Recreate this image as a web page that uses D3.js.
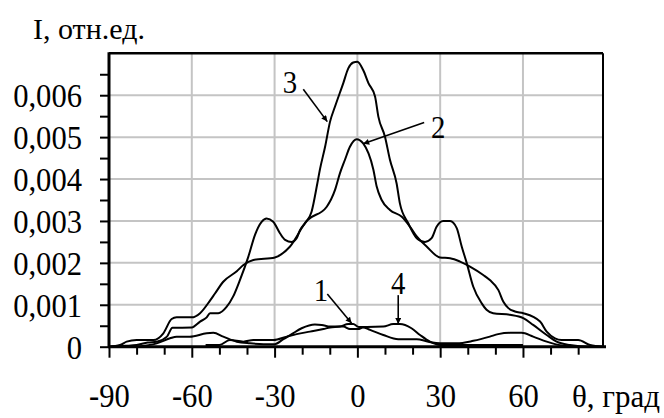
<!DOCTYPE html>
<html><head><meta charset="utf-8">
<script src="https://cdn.jsdelivr.net/npm/d3@7"></script>
<style>
body{margin:0;background:#fff}
svg{display:block}
svg text{font-family:'Liberation Serif','DejaVu Serif',serif !important;fill:#000}
</style>
</head><body><svg id="chart" width="664" height="418"></svg>
<script>
// ---- data (angle in degrees, relative intensity) ----
const angles1 = [-80, -72.7, -67.9, -65.5, -60.7, -54.6, -52.2, -48.6, -43.7, -38.9, -34, -30, -26.8, -23.8, -20.2, -15.4, -12.9, -9.9, -5.1, -2.7, 0.3, 2, 4.6, 9.4, 14.8, 21.5, 25.7, 29.9, 36, 42, 48, 51, 55.3, 59.5, 63.7, 68.6, 74.6, 78];
const values1 = [0, 0.00008, 0.0002, 0.00024, 0.00024, 0.00032, 0.00033, 0.00024, 0.00012, 0.00008, 0.00006, 0.00006, 0.00018, 0.0003, 0.00044, 0.00053, 0.00052, 0.00048, 0.00048, 0.00042, 0.00042, 0.00046, 0.0004, 0.00028, 0.00018, 0.00018, 0.00012, 0.00008, 0.00008, 0.00014, 0.00024, 0.0003, 0.00033, 0.00033, 0.00024, 0.00012, 0.00002, 0];

const angles2 = [-90, -86, -83.6, -80, -73.9, -70.3, -67.3, -65.5, -60, -57, -53.4, -51.6, -48.6, -43.7, -41.3, -37.7, -29.9, -24.4, -18.4, -11.1, -8.1, -6.3, -4.5, -2.7, -0.25, 2.1, 5.8, 7, 8.8, 11.8, 16.1, 19.1, 21.5, 25.1, 29.9, 33.6, 37.2, 40.8, 45.6, 48, 51.1, 52.9, 54.7, 57.1, 60.1, 66.2, 68.6, 71.6, 74, 80, 84.3, 89];
const values2 = [0, 0.00004, 0.00012, 0.00016, 0.00016, 0.00032, 0.00066, 0.0007, 0.0007, 0.0008, 0.0011, 0.00127, 0.00155, 0.0018, 0.00195, 0.00207, 0.00213, 0.00239, 0.003, 0.00334, 0.00374, 0.00414, 0.00446, 0.00477, 0.00495, 0.00485, 0.00422, 0.00382, 0.0035, 0.00326, 0.0031, 0.00286, 0.00263, 0.00239, 0.00213, 0.00211, 0.00203, 0.00191, 0.00171, 0.00159, 0.00135, 0.00107, 0.00092, 0.00084, 0.0008, 0.0006, 0.00036, 0.0002, 0.00016, 0.00016, 0.00004, 0];

const angles3 = [-90, -84, -80, -76, -72.7, -69, -67, -60, -57, -54.6, -53.4, -50.4, -47.4, -45, -42.5, -39.5, -37.1, -34.7, -32.9, -30.5, -28, -26.2, -23.8, -22, -20.8, -19, -16.6, -14.5, -13.6, -11.7, -9.9, -8.1, -5.1, -3.3, -1.5, 0, 2.1, 4, 6.4, 7.6, 10, 11.8, 14.2, 15.4, 18.4, 21.5, 24.5, 26.9, 28.7, 31.1, 33.6, 36, 37.8, 39.6, 42, 45, 46.8, 49.2, 55.3, 60.1, 63.7, 68.6, 72.2, 77, 84, 89];
const values3 = [0, 0.00002, 0.00004, 0.0001, 0.00012, 0.00024, 0.00045, 0.00046, 0.0006, 0.0007, 0.0008, 0.0008, 0.00095, 0.0012, 0.0016, 0.00215, 0.00267, 0.00298, 0.00306, 0.00298, 0.0027, 0.00255, 0.0025, 0.00259, 0.00278, 0.00294, 0.00322, 0.0039, 0.00422, 0.00477, 0.00537, 0.00573, 0.00629, 0.00664, 0.00678, 0.0068, 0.0066, 0.00629, 0.00597, 0.00549, 0.00501, 0.00446, 0.0039, 0.00342, 0.00295, 0.00259, 0.0025, 0.00259, 0.00286, 0.003, 0.003, 0.00283, 0.00239, 0.002, 0.00143, 0.00104, 0.00088, 0.0008, 0.00076, 0.00068, 0.00052, 0.00028, 0.00012, 0.00004, 0, 0];

const angles4 = [-55, -50, -46.2, -41.3, -37.7, -30.4, -25.6, -22, -17.2, -12.3, -9.9, -6.3, -3.3, -1.5, 0.5, 3.4, 9.4, 13, 15.4, 19.6, 22.7, 26.3, 30, 35, 60];
const values4 = [0.00004, 0.00004, 0.00016, 0.00012, 0.00016, 0.00016, 0.00024, 0.0003, 0.00036, 0.00042, 0.00046, 0.00048, 0.00054, 0.00054, 0.00047, 0.00047, 0.00048, 0.00054, 0.00054, 0.00044, 0.00028, 0.00012, 0.00004, 0.00004, 0.00004];

const xTicks = [-90, -80, -70, -60, -50, -40, -30, -20, -10, 0, 10, 20, 30, 40, 50, 60, 70, 80];
const xTickLabels = ["-90", "-60", "-30", "0", "30", "60"];
const xLabelAt = [-90, -60, -30, 0, 30, 60];
const xGrid = [-60, -30, 0, 30, 60];
const yTicks = [0, 0.0005, 0.001, 0.0015, 0.002, 0.0025, 0.003, 0.0035, 0.004, 0.0045, 0.005, 0.0055, 0.006, 0.0065];
const yLabelAt = [0, 0.001, 0.002, 0.003, 0.004, 0.005, 0.006];
const yTickLabels = ["0", "0,001", "0,002", "0,003", "0,004", "0,005", "0,006"];
const yGrid = [0.001, 0.002, 0.003, 0.004, 0.005, 0.006];

const yTitle = "I, отн.ед.";
const xTitle = "θ, град";

// annotations: label, text position, arrow start, arrow tip (data units)
const annLabels = ["3", "2", "1", "4"];
const annTextX = [-24.4, 29.3, -13.2, 14.8];
const annTextY = [0.00632, 0.00525, 0.00135, 0.00152];
const annFromX = [-19.6, 24.2, -10.9, 14.8];
const annFromY = [0.00614, 0.00535, 0.00126, 0.00123];
const annTipX = [-10.9, 2.1, -2.1, 14.8];
const annTipY = [0.00537, 0.00484, 0.00056, 0.00054];

// ---- drawing ----
const FONT = "'Liberation Serif','DejaVu Serif',serif";
const svg = d3.select("#chart");
const L = 109, R = 603, T = 53.3, B = 346.7;
const x = d3.scaleLinear().domain([-90, 89]).range([L, R]);
const y = d3.scaleLinear().domain([0, 0.007]).range([B, T]);

const defs = svg.append("defs");
defs.append("marker").attr("id", "arr").attr("viewBox", "0 0 10 10")
  .attr("refX", 10).attr("refY", 5).attr("markerWidth", 9).attr("markerHeight", 6)
  .attr("markerUnits", "userSpaceOnUse").attr("orient", "auto")
  .append("path").attr("d", "M0,0 L10,5 L0,10 Z").attr("fill", "#000");

// grid
svg.append("g").selectAll("line").data(xGrid).join("line")
  .attr("x1", d => x(d)).attr("x2", d => x(d)).attr("y1", T).attr("y2", B)
  .attr("stroke", "#c4c4c4").attr("stroke-width", 2);
svg.append("g").selectAll("line").data(yGrid).join("line")
  .attr("x1", L).attr("x2", R).attr("y1", d => y(d)).attr("y2", d => y(d))
  .attr("stroke", "#c4c4c4").attr("stroke-width", 2);

// frame top / right
svg.append("line").attr("x1", L).attr("x2", R).attr("y1", T).attr("y2", T)
  .attr("stroke", "#000").attr("stroke-width", 2.5);
svg.append("line").attr("x1", R).attr("x2", R).attr("y1", T).attr("y2", B)
  .attr("stroke", "#000").attr("stroke-width", 2);

// curves
const series = [[angles1, values1], [angles2, values2], [angles3, values3], [angles4, values4]];
const line = d3.line().x(d => x(d[0])).y(d => y(d[1])).curve(d3.curveMonotoneX);
series.forEach(([a, v]) => {
  svg.append("path").datum(a.map((d, i) => [d, v[i]]))
    .attr("d", line).attr("fill", "none").attr("stroke", "#000")
    .attr("stroke-width", 2).attr("stroke-linejoin", "round");
});

// axes
const fmtX = d => { const i = xLabelAt.indexOf(d); return i >= 0 ? xTickLabels[i] : ""; };
const gx = svg.append("g").attr("transform", `translate(0,${B})`)
  .call(d3.axisBottom(x).tickValues(xTicks).tickFormat(fmtX).tickSizeOuter(0).tickSize(8));
gx.attr("font-family", FONT);
gx.select(".domain").attr("stroke-width", 3).attr("d", `M${L - 1},0H${R + 3}`);
gx.selectAll(".tick line").attr("stroke-width", 2).attr("y2", d => d % 30 === 0 ? 11 : 8);
gx.selectAll(".tick text").attr("font-size", 34).attr("y", 60).attr("dy", 0)
  .attr("transform", "scale(0.9,1)");

const fmtY = d => { const i = yLabelAt.findIndex(v => Math.abs(v - d) < 1e-9); return i >= 0 ? yTickLabels[i] : ""; };
const gy = svg.append("g").attr("transform", `translate(${L},0)`)
  .call(d3.axisLeft(y).tickValues(yTicks).tickFormat(fmtY).tickSizeOuter(0).tickSize(9));
gy.attr("font-family", FONT);
gy.select(".domain").attr("stroke-width", 3).attr("d", `M0,${B + 1}V${T - 1}`);
gy.selectAll(".tick line").attr("stroke-width", 2);
gy.selectAll(".tick text").attr("font-size", 34).attr("x", -27 / 0.9).attr("dy", "0.34em")
  .attr("transform", "scale(0.9,1)");

// titles
svg.append("text").attr("x", 33).attr("y", 39).attr("font-size", 30).text(yTitle);
svg.append("text").attr("x", 572).attr("y", 407).attr("font-size", 31).text(xTitle);

// annotations
annLabels.forEach((lab, i) => {
  svg.append("text").attr("transform", `translate(${x(annTextX[i])},${y(annTextY[i])}) scale(0.9,1)`)
    .attr("text-anchor", "middle").attr("dy", "0.34em").attr("font-size", 32).text(lab);
  svg.append("line").attr("x1", x(annFromX[i])).attr("y1", y(annFromY[i]))
    .attr("x2", x(annTipX[i])).attr("y2", y(annTipY[i]))
    .attr("stroke", "#000").attr("stroke-width", 1.6).attr("marker-end", "url(#arr)");
});
</script>
</body></html>
